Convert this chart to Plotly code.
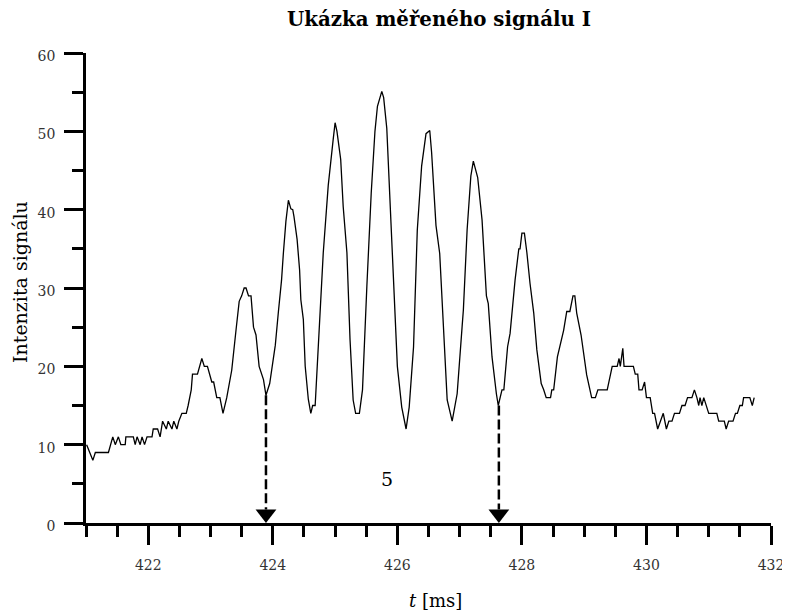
import plotly.graph_objects as go

# ---- data ----
time_ms = [
    421.01, 421.06, 421.11, 421.15, 421.36, 421.43, 421.47, 421.52, 421.56, 421.63,
    421.64, 421.76, 421.79, 421.82, 421.87, 421.90, 421.94, 421.98, 422.06, 422.08,
    422.15, 422.19, 422.23, 422.29, 422.32, 422.38, 422.41, 422.46, 422.49, 422.54,
    422.61, 422.64, 422.69, 422.71, 422.79, 422.86, 422.90, 422.95, 423.02, 423.05,
    423.10, 423.15, 423.20, 423.26, 423.34, 423.41, 423.46, 423.50, 423.54, 423.57,
    423.61, 423.65, 423.69, 423.73, 423.78, 423.85, 423.89, 423.95, 424.00, 424.04,
    424.09, 424.14, 424.17, 424.21, 424.25, 424.29, 424.32, 424.34, 424.39, 424.43,
    424.45, 424.49, 424.52, 424.57, 424.61, 424.64, 424.68, 424.71, 424.73, 424.81,
    424.89, 424.95, 424.97, 425.00, 425.03, 425.09, 425.13, 425.19, 425.24, 425.29,
    425.33, 425.39, 425.44, 425.51, 425.58, 425.64, 425.68, 425.75, 425.78, 425.83,
    425.87, 425.93, 426.00, 426.07, 426.14, 426.19, 426.26, 426.32, 426.39, 426.46,
    426.52, 426.55, 426.62, 426.68, 426.74, 426.80, 426.88, 426.96, 427.04, 427.06,
    427.12, 427.18, 427.22, 427.29, 427.36, 427.43, 427.46, 427.52, 427.59, 427.62,
    427.68, 427.71, 427.77, 427.81, 427.89, 427.95, 427.97, 428.00, 428.04, 428.08,
    428.13, 428.19, 428.24, 428.31, 428.35, 428.39, 428.46, 428.48, 428.51, 428.57,
    428.67, 428.72, 428.77, 428.82, 428.85, 428.88, 428.95, 428.99, 429.04, 429.12,
    429.18, 429.22, 429.37, 429.45, 429.53, 429.56, 429.58, 429.62, 429.64, 429.79,
    429.82, 429.86, 429.88, 429.93, 429.97, 430.00, 430.06, 430.10, 430.13, 430.18,
    430.22, 430.27, 430.32, 430.36, 430.41, 430.45, 430.53, 430.57, 430.62, 430.66,
    430.73, 430.77, 430.81, 430.84, 430.86, 430.89, 430.92, 430.96, 431.00, 431.13,
    431.16, 431.25, 431.28, 431.32, 431.39, 431.43, 431.46, 431.50, 431.54, 431.56,
    431.66, 431.70, 431.73,
]
intensity = [
    10, 9, 8, 9, 9, 11, 10, 11, 10, 10,
    11, 11, 10, 11, 10, 11, 10, 11, 11, 12,
    12, 11, 13, 12, 13, 12, 13, 12, 13, 14,
    14, 15, 17, 19, 19, 21, 20, 20, 18, 18,
    16, 16, 14, 16, 19.5, 24.7, 28.3, 29, 30, 30,
    29, 29, 25, 24, 20, 18.3, 16.3, 17.8, 20.6, 22.7,
    27, 31, 34.5, 38.5, 41.2, 40.1, 40, 39.1, 36.2, 32.3,
    28.5, 26, 20, 15.8, 14, 15, 15, 19.5, 21.2, 34.5,
    43.1, 48.1, 49, 51.1, 50, 46.4, 40.4, 34.5, 23.4, 15.7,
    14, 14, 17, 30.2, 42.1, 50, 53.2, 55.1, 54.3, 50.4,
    43, 31, 20, 14.8, 12, 14.8, 22.5, 37.4, 45.6, 49.7,
    50.1, 47.3, 38, 34.4, 25.1, 15.7, 13, 16.5, 25.1, 27.2,
    37.4, 44.3, 46.2, 44.1, 38.7, 29, 28, 21.2, 16.5, 15,
    17, 17, 22.5, 24.2, 31, 35, 35, 37, 37, 34.5,
    30.6, 26.8, 22.1, 17.8, 17, 16, 16, 17, 17, 21.2,
    24.6, 27, 27, 29, 29, 26.8, 24, 21.7, 18.9, 16,
    16, 17, 17, 20, 20, 21, 20, 22.3, 20, 20,
    19, 19, 17, 17, 18, 16, 16, 14, 14, 12,
    13, 14, 12, 13, 13, 14, 14, 15, 15, 16,
    16, 17, 16, 15, 16, 15, 16, 15, 14, 14,
    13, 13, 12, 13, 13, 14, 14, 15, 15, 16,
    16, 15, 16,
]

arrow_t = [423.89, 427.63]      # dashed arrows: time position
arrow_top = [16.3, 15.0]        # where the dashed arrows start (on the curve)
count_label_t = [425.84]
count_label_y = [5.6]
count_label_text = ["5"]

title_text = "<b>Ukázka měřeného signálu I</b>"
x_title = "<i>t</i> [ms]"
y_title = "Intenzita signálu"

x_range = [421, 432]
y_range = [0, 60]

# ---- figure ----
SERIF = "DejaVu Serif"
OFF = 8                      # page body margin of the html page
W, H = 790 - OFF, 614 - OFF
# target plot area in screen pixels: x 86..771, y 53..523
ml = 86 - OFF
mt = 53 - OFF
mr = W - (771 - OFF)
mb = H - (523 - OFF)
plot_h = H - mt - mb
pw = W - ml - mr
px_per_unit = plot_h / (y_range[1] - y_range[0])
head_size = 18
head_center = (head_size / 2) / px_per_unit
head_top = head_center + (head_size / 4) / px_per_unit


def px_x(p):  # screen px -> paper
    return (p - OFF - ml) / pw


def px_y(q):
    return (H - mb - (q - OFF)) / plot_h


fig = go.Figure()
fig.add_trace(go.Scatter(
    x=time_ms, y=intensity, mode="lines",
    line=dict(color="black", width=1.3), showlegend=False, hoverinfo="skip",
))
for t, top in zip(arrow_t, arrow_top):
    fig.add_trace(go.Scatter(
        x=[t, t], y=[top, head_top], mode="lines",
        line=dict(color="black", width=2.5, dash="10px,4px"),
        showlegend=False, hoverinfo="skip", cliponaxis=False,
    ))
fig.add_trace(go.Scatter(
    x=arrow_t, y=[head_center] * len(arrow_t), mode="markers",
    marker=dict(symbol="triangle-down", size=head_size, color="black", line=dict(width=0)),
    showlegend=False, hoverinfo="skip", cliponaxis=False,
))
for t, yv, txt in zip(count_label_t, count_label_y, count_label_text):
    fig.add_annotation(x=t, y=yv, xref="x", yref="y", text=txt, showarrow=False,
                       xanchor="center", yanchor="middle",
                       font=dict(family=SERIF, size=19, color="black"))

fig.add_annotation(x=px_x(439), y=px_y(19), xref="paper", yref="paper",
                   text=title_text, showarrow=False, xanchor="center", yanchor="middle",
                   font=dict(family=SERIF, size=19.8, color="black"))
fig.add_annotation(x=px_x(20), y=px_y(282), xref="paper", yref="paper",
                   text=y_title, showarrow=False, textangle=-90,
                   xanchor="center", yanchor="middle",
                   font=dict(family=SERIF, size=19, color="black"))
fig.add_annotation(x=px_x(435), y=px_y(600), xref="paper", yref="paper",
                   text=x_title, showarrow=False, xanchor="center", yanchor="middle",
                   font=dict(family=SERIF, size=18, color="black"))

axis_common = dict(
    showline=True, linecolor="black", linewidth=2.5,
    ticks="outside", ticklen=19, tickwidth=2.5, tickcolor="black",
    showgrid=False, zeroline=False, automargin=False,
    tickfont=dict(family=SERIF, size=14, color="#333"),
)
fig.update_layout(
    width=W, height=H,
    margin=dict(l=ml, r=mr, t=mt, b=mb, autoexpand=False),
    paper_bgcolor="white", plot_bgcolor="white",
    xaxis=dict(range=x_range, tick0=422, dtick=2,
               minor=dict(dtick=0.5, tick0=421, ticklen=11, tickwidth=2.5,
                          tickcolor="black", ticks="outside", showgrid=False),
               ticklabelstandoff=8, **axis_common),
    yaxis=dict(range=y_range, tick0=0, dtick=10,
               minor=dict(dtick=5, tick0=0, ticklen=11, tickwidth=2.5,
                          tickcolor="black", ticks="outside", showgrid=False),
               ticklabelstandoff=6, ticklabelshift=3, **axis_common),
)

fig.write_html("out.html")
